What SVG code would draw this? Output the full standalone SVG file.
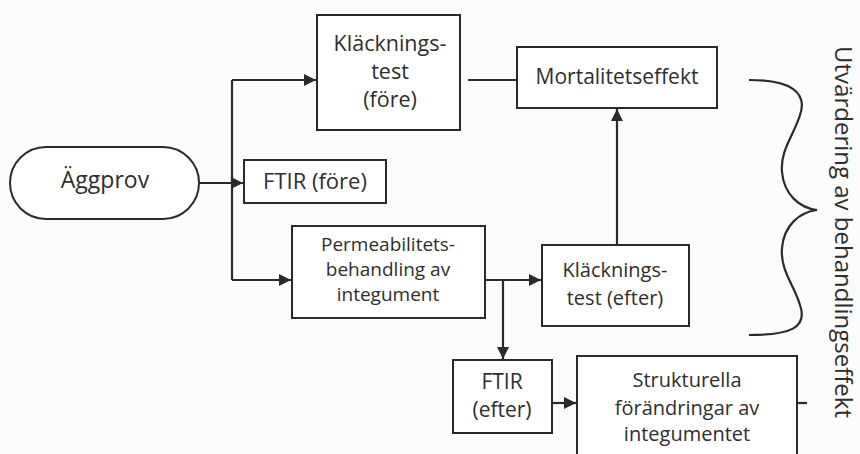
<svg xmlns="http://www.w3.org/2000/svg" width="860" height="454" viewBox="0 0 860 454">
<style>
.box{fill:#fff;stroke:#2a2a2a;stroke-width:2}
.ln{fill:none;stroke:#2a2a2a;stroke-width:2.2}
text{font-family:"Open Sans","Noto Sans",sans-serif;font-size:20px;fill:#2e2e2e;text-anchor:middle}
</style>
<defs>
<marker id="ah" viewBox="0 0 10 10" refX="10" refY="5" markerWidth="12" markerHeight="12" markerUnits="userSpaceOnUse" orient="auto">
<path d="M0,0 L10,5 L0,10 Z" fill="#2a2a2a"/>
</marker>
</defs>
<rect width="860" height="454" fill="#fcfcfc"/>
<g id="connectors">
<path class="ln" d="M199,183 H243" marker-end="url(#ah)"/>
<path class="ln" d="M232,80 V280"/>
<path class="ln" d="M232,80 H316" marker-end="url(#ah)"/>
<path class="ln" d="M232,280 H291" marker-end="url(#ah)"/>
<path class="ln" d="M468,80 H517"/>
<path class="ln" d="M485,280 H541" marker-end="url(#ah)"/>
<path class="ln" d="M503,280 V359" marker-end="url(#ah)"/>
<path class="ln" d="M617,245 V109" marker-end="url(#ah)"/>
<path class="ln" d="M552,403 H576" marker-end="url(#ah)"/>
<path class="ln" d="M797,403 H807" stroke-width="1.5"/>
</g>
<g id="aggprov">
<rect class="box" x="10" y="147" width="189" height="72" rx="36"/>
<text x="105" y="188" style="font-size:23px">Äggprov</text>
</g>
<g id="klackning-fore">
<rect class="box" x="317" y="15" width="143" height="115"/>
<text x="390" y="51" style="font-size:21.5px">Kläcknings-</text>
<text x="390" y="79" style="font-size:21.5px">test</text>
<text x="390" y="107" style="font-size:21.5px">(före)</text>
</g>
<g id="ftir-fore">
<rect class="box" x="244" y="160" width="142" height="43"/>
<text x="315" y="189" style="font-size:22px">FTIR (före)</text>
</g>
<g id="mortalitet">
<rect class="box" x="517" y="47" width="200" height="61"/>
<text x="617" y="84" style="font-size:21px">Mortalitetseffekt</text>
</g>
<g id="permeabilitet">
<rect class="box" x="292" y="226" width="193" height="92"/>
<text x="388" y="251" style="font-size:19px">Permeabilitets-</text>
<text x="388" y="276" style="font-size:19px">behandling av</text>
<text x="388" y="301" style="font-size:19px">integument</text>
</g>
<g id="klackning-efter">
<rect class="box" x="542" y="245" width="147" height="81"/>
<text x="615" y="277">Kläcknings-</text>
<text x="615" y="305">test (efter)</text>
</g>
<g id="ftir-efter">
<rect class="box" x="453" y="360" width="99" height="73"/>
<text x="502" y="389" style="font-size:21px">FTIR</text>
<text x="502" y="417" style="font-size:21px">(efter)</text>
</g>
<g id="strukturella">
<rect class="box" x="577" y="356" width="220" height="110"/>
<text x="687" y="387">Strukturella</text>
<text x="687" y="415">förändringar av</text>
<text x="687" y="441">integumentet</text>
</g>
<g id="brace">
<path class="ln" d="M749,80 C790,80 808,92 800,115 C794,135 780,150 782,172 C784,195 800,208 817,210 C800,212 784,225 782,248 C780,270 794,285 800,305 C808,328 790,335 749,335"/>
<text transform="translate(835,232) rotate(90)" style="font-size:24px">Utvärdering av behandlingseffekt</text>
</g>
</svg>
